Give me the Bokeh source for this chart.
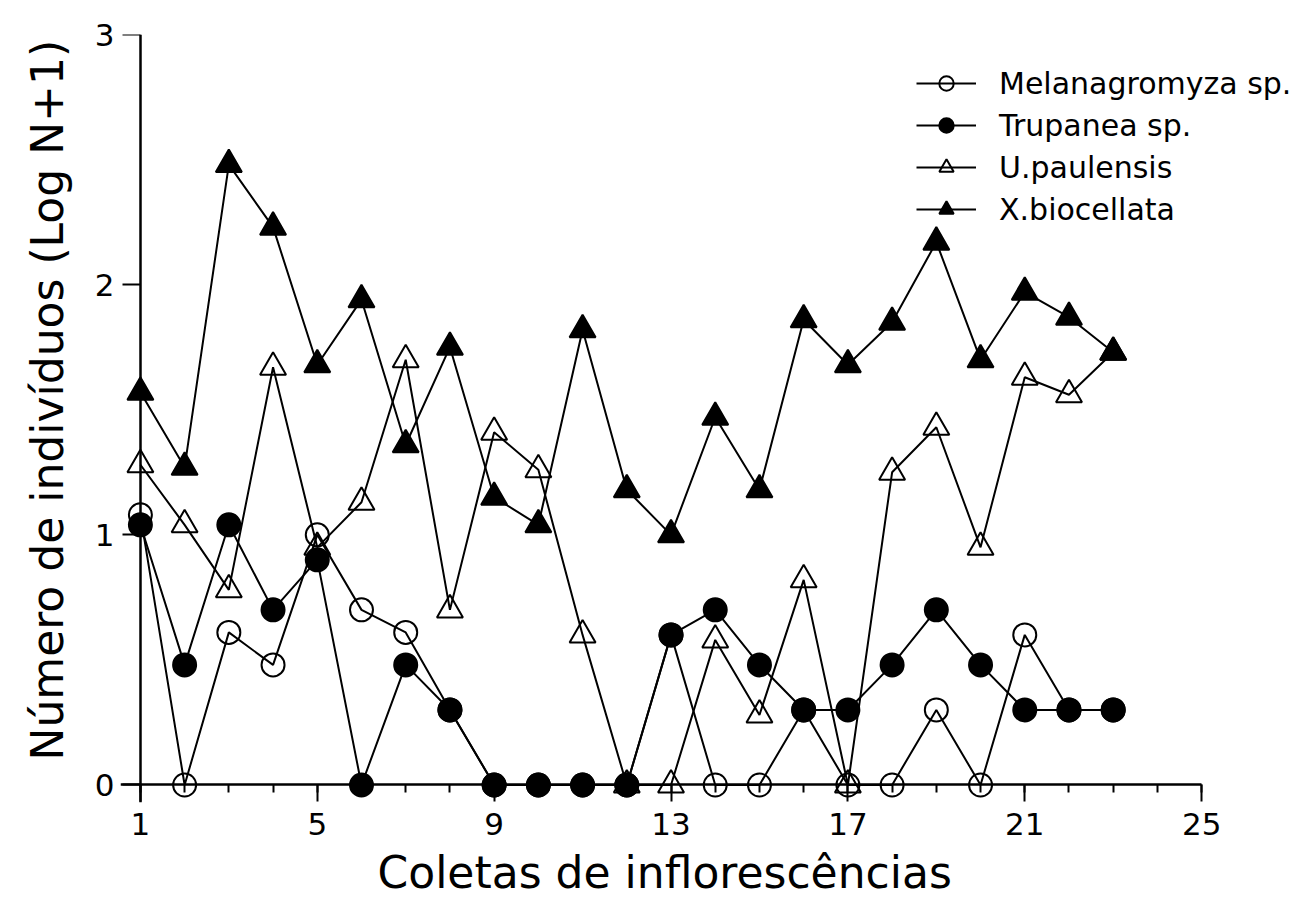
from bokeh.plotting import figure
from bokeh.models import FixedTicker, Legend, LegendItem, Range1d, LinearAxis, Title
from bokeh.embed import file_html
from bokeh.resources import INLINE

# ---- data (log N+1 per inflorescence collection) ----
coletas = list(range(1, 24))
melanagromyza = [1.08, 0.00, 0.61, 0.48, 1.00, 0.70, 0.61, 0.30, 0.00, 0.00, 0.00, 0.00,
                 0.60, 0.00, 0.00, 0.30, 0.00, 0.00, 0.30, 0.00, 0.60, 0.30, 0.30]
trupanea = [1.04, 0.48, 1.04, 0.70, 0.90, 0.00, 0.48, 0.30, 0.00, 0.00, 0.00, 0.00,
            0.60, 0.70, 0.48, 0.30, 0.30, 0.48, 0.70, 0.48, 0.30, 0.30, 0.30]
u_paulensis = [1.28, 1.04, 0.78, 1.67, 0.95, 1.13, 1.70, 0.70, 1.41, 1.26, 0.60, 0.00,
               0.00, 0.58, 0.28, 0.82, 0.00, 1.25, 1.43, 0.95, 1.63, 1.56, 1.73]
x_biocellata = [1.57, 1.27, 2.48, 2.23, 1.68, 1.94, 1.36, 1.75, 1.15, 1.04, 1.82, 1.18,
                1.00, 1.47, 1.18, 1.86, 1.68, 1.85, 2.17, 1.70, 1.97, 1.87, 1.73]

series_names = ["Melanagromyza sp.", "Trupanea sp.", "U.paulensis", "X.biocellata"]
x_major_ticks = [1, 5, 9, 13, 17, 21, 25]
x_minor_ticks = list(range(1, 26))
y_major_ticks = [0, 1, 2, 3]

FONT = "DejaVu Sans"

p = figure(width=1297, height=906, output_backend="svg", toolbar_location=None,
           x_range=Range1d(0.55, 27.10), y_range=Range1d(-0.07, 3.0),
           min_border_left=119, min_border_right=3, min_border_top=34,
           min_border_bottom=104)
p.outline_line_color = None
p.grid.visible = False
p.background_fill_color = "white"
p.border_fill_color = "white"

# --- default side axes: only tick labels ---
xl = p.xaxis[0]
yl = p.yaxis[0]
xl.ticker = FixedTicker(ticks=x_major_ticks)
yl.ticker = FixedTicker(ticks=y_major_ticks)
xl.bounds = (0.55, 25)
yl.bounds = (0, 3)
for ax in (xl, yl):
    ax.axis_line_color = None
    ax.major_tick_line_color = None
    ax.minor_tick_line_color = None
    ax.major_tick_out = 0
    ax.major_tick_in = 0
    ax.minor_tick_out = 0
    ax.minor_tick_in = 0
    ax.major_label_text_font = FONT
    ax.major_label_text_font_size = "31px"
    ax.major_label_text_color = "black"

xl.major_label_standoff = 10
yl.major_label_standoff = 6

# axis titles as side titles, so they can be placed like the original
x_title = Title(text="Coletas de inflorescências", align="left", offset=257,
                text_font=FONT, text_font_size="44px", text_font_style="normal",
                text_color="black", standoff=14)
p.add_layout(x_title, "below")

y_title = Title(text="Número de indivíduos (Log N+1)", align="left", offset=42,
                text_font=FONT, text_font_size="44px", text_font_style="normal",
                text_color="black", standoff=38)
p.add_layout(y_title, "left")

# --- axis lines and ticks crossing at the data origin (x=1, y=0) ---
x_rule = LinearAxis(fixed_location=0, bounds=(0.55, 25),
                    ticker=FixedTicker(ticks=x_major_ticks, minor_ticks=x_minor_ticks),
                    major_label_text_font_size="0px", major_label_text_alpha=0,
                    axis_line_color="black", axis_line_width=2.5,
                    major_tick_line_color="black", major_tick_line_width=2,
                    major_tick_in=0, major_tick_out=17,
                    minor_tick_line_color="black", minor_tick_line_width=2,
                    minor_tick_in=0, minor_tick_out=8)
y_rule = LinearAxis(fixed_location=1, bounds=(-0.07, 3),
                    ticker=FixedTicker(ticks=y_major_ticks),
                    major_label_text_font_size="0px", major_label_text_alpha=0,
                    axis_line_color="black", axis_line_width=2.5,
                    major_tick_line_color="black", major_tick_line_width=2,
                    major_tick_in=0, major_tick_out=18,
                    minor_tick_line_color=None)
p.add_layout(x_rule, "below")
p.add_layout(y_rule, "left")

styles = [
    (melanagromyza, "circle", 23, None),
    (trupanea, "circle", 23, "black"),
    (u_paulensis, "triangle", 26, None),
    (x_biocellata, "triangle", 26, "black"),
]

items = []
for name, (vals, marker, size, fill) in zip(series_names, styles):
    lr = p.line(coletas, vals, line_color="black", line_width=2)
    sr = p.scatter(coletas, vals, marker=marker, size=size, fill_color=fill,
                   line_color="black", line_width=2)
    items.append(LegendItem(label=name, renderers=[lr, sr]))

legend = Legend(items=items, location=(796, 575), orientation="vertical",
                glyph_width=60, glyph_height=36, label_height=36, spacing=6,
                padding=0, margin=0, label_standoff=23,
                border_line_color=None, background_fill_alpha=0,
                label_text_font=FONT, label_text_font_size="30px",
                label_text_color="black")
p.add_layout(legend)

open("out.html", "w").write(file_html(p, INLINE))
